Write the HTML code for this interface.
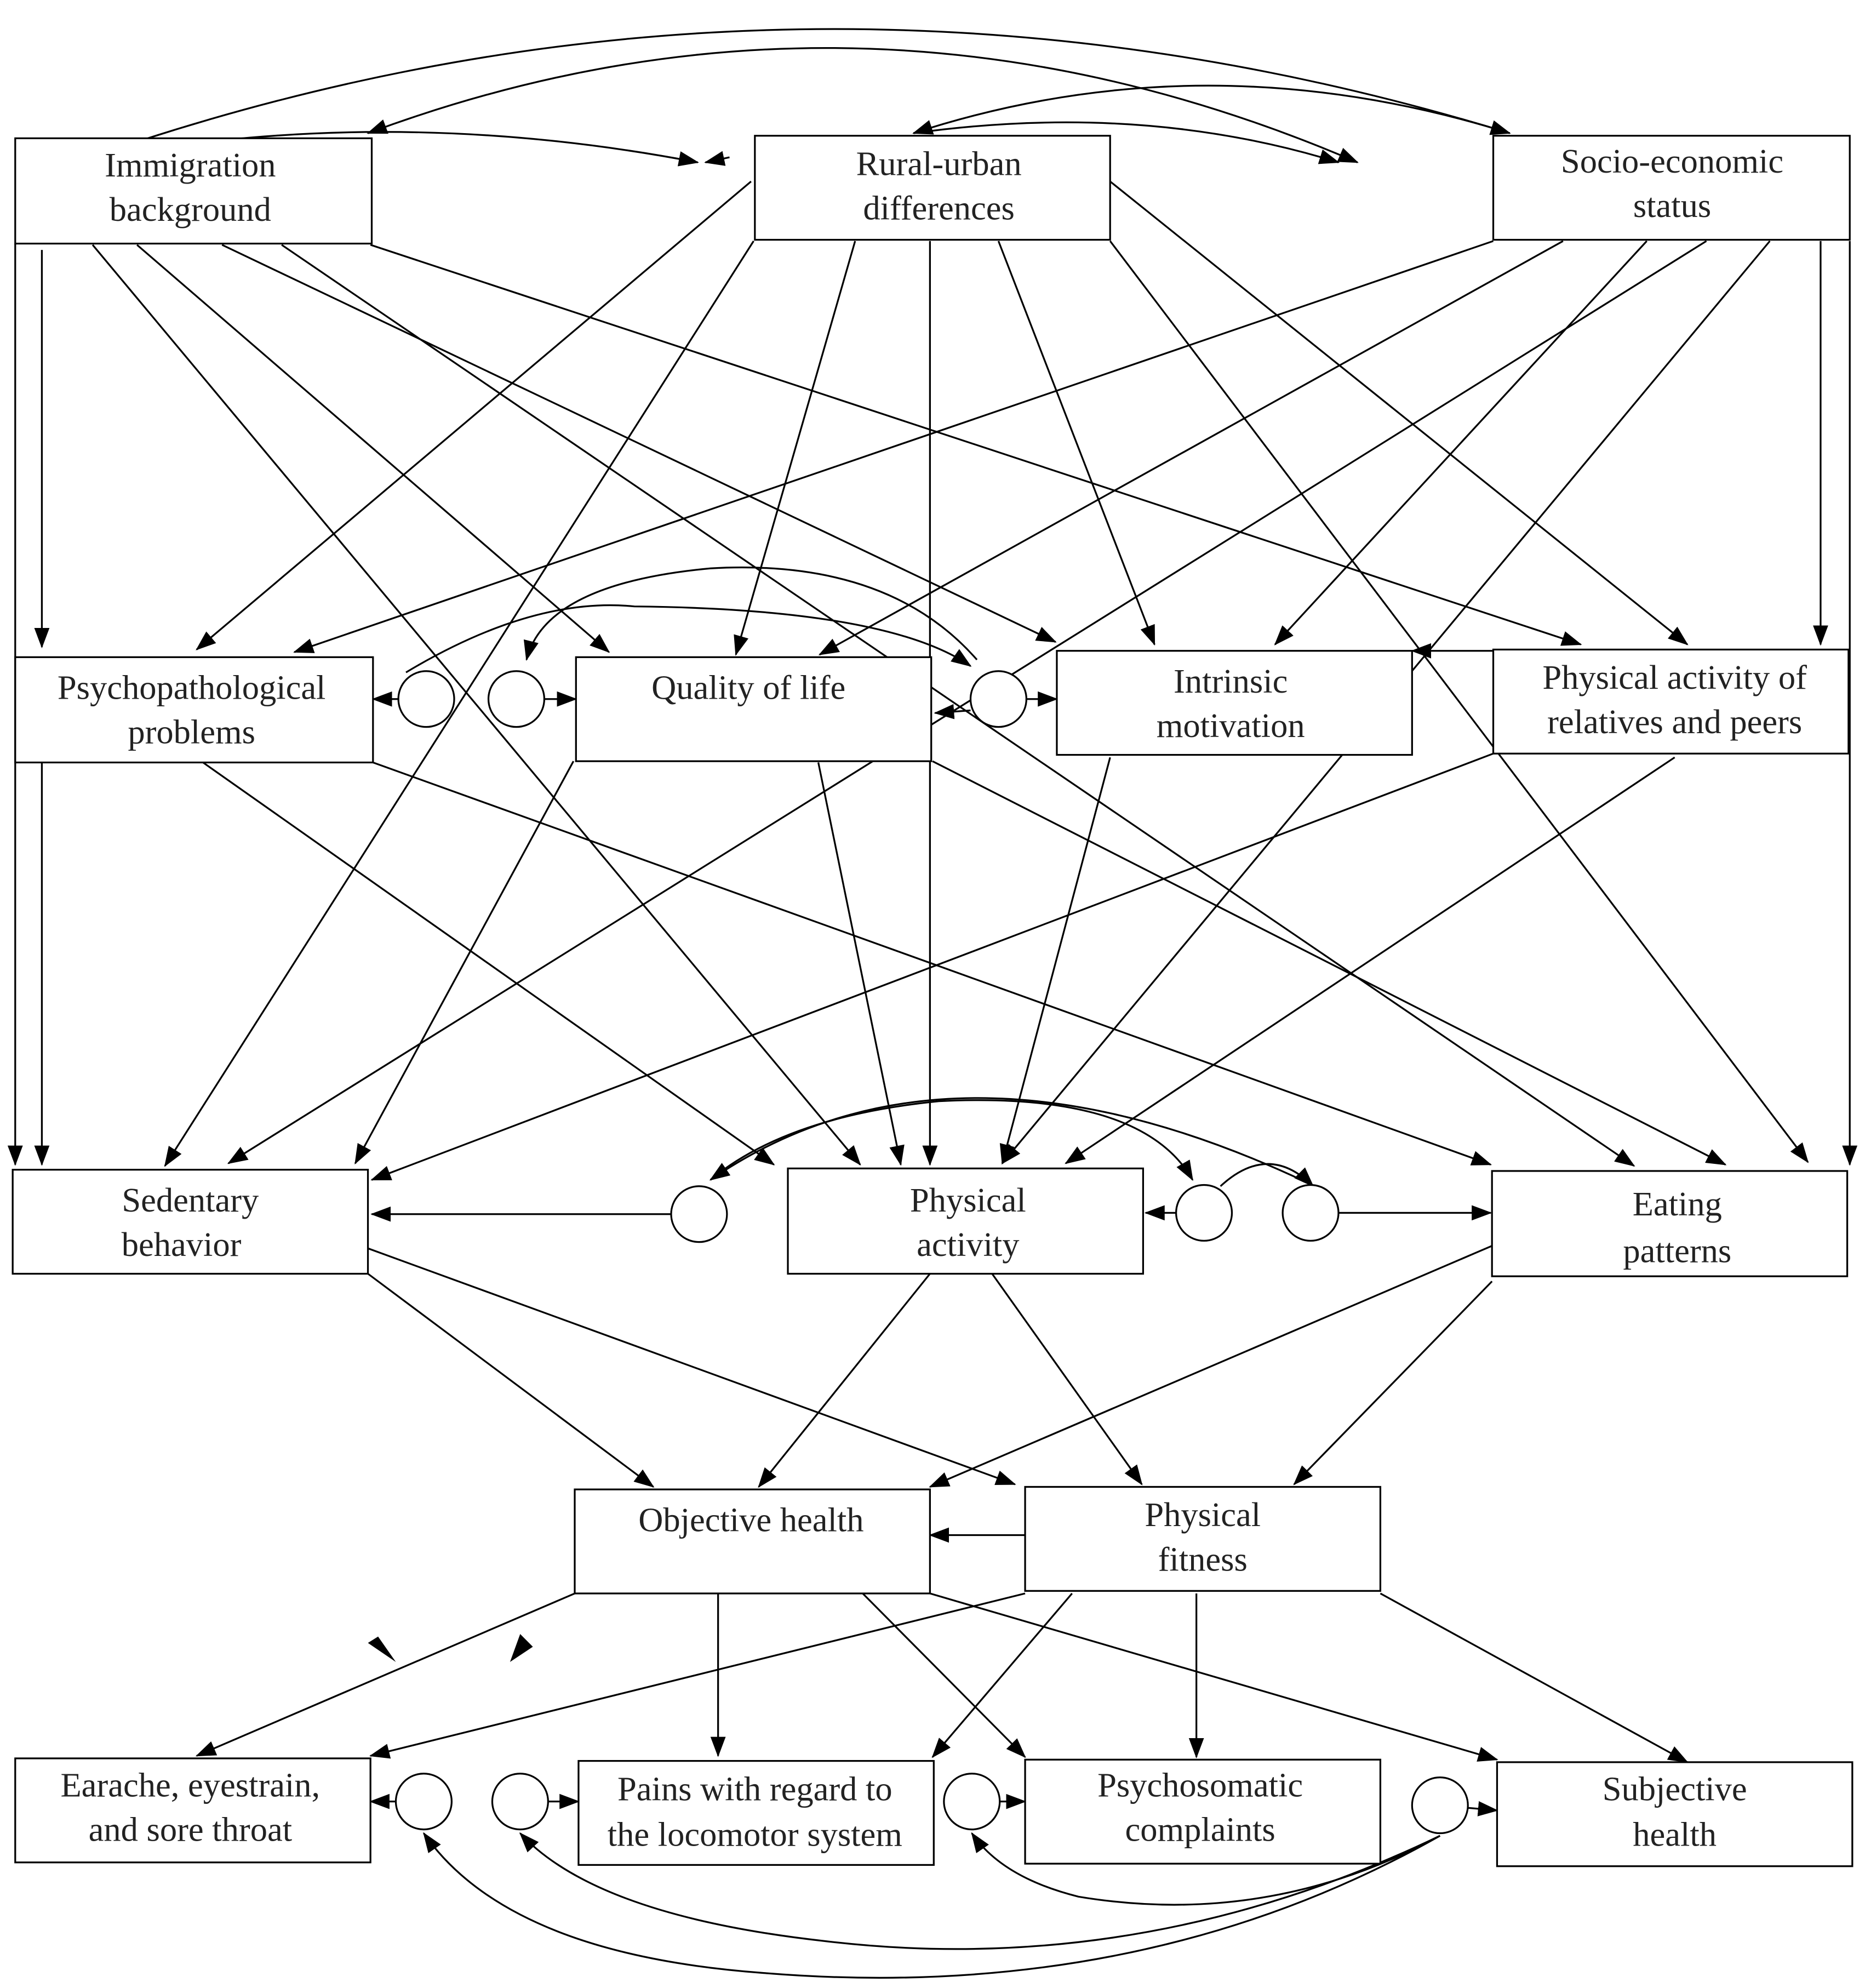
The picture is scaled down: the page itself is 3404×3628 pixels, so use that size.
<!DOCTYPE html>
<html><head><meta charset="utf-8"><style>
html,body{margin:0;padding:0;background:#fff}
svg{display:block}
text{font-family:"Liberation Serif",serif;font-size:27px;fill:#222;text-anchor:middle}
</style></head><body>
<svg width="3404" height="3628" viewBox="0 0 1470 1567" preserveAspectRatio="none" xmlns="http://www.w3.org/2000/svg">
<defs><marker id="b" markerWidth="16" markerHeight="16" refX="15" refY="8" orient="auto" markerUnits="userSpaceOnUse" viewBox="0 0 16 16"><path d="M0,2 L16,8 L0,14 Z" fill="#000"/></marker>
<marker id="s" markerWidth="16" markerHeight="16" refX="1" refY="8" orient="auto" markerUnits="userSpaceOnUse" viewBox="0 0 16 16"><path d="M16,2 L0,8 L16,14 Z" fill="#000"/></marker></defs>
<g stroke="#000" stroke-width="1.4" fill="none" marker-end="url(#b)">
<path d="M60,128 Q620,-70 1190,105" marker-start="url(#s)"/>
<path d="M290,105 Q680,-40 1070,128" marker-start="url(#s)"/>
<path d="M1190,105 Q950,30 720,105"/>
<path d="M60,128 Q300,80 550,128"/>
<path d="M720,105 Q900,80 1055,128"/>
<path d="M575,124 L556,128"/>
<path d="M33,197 L33,510"/>
<path d="M12,192 L12,918"/>
<path d="M73,193 L678,918"/>
<path d="M108,193 L480,514"/>
<path d="M175,193 L832,506"/>
<path d="M222,193 L1288,919"/>
<path d="M292,193 L1246,508"/>
<path d="M592,143 L155,512"/>
<path d="M594,190 L130,919"/>
<path d="M674,190 L580,516"/>
<path d="M733,190 L733,918"/>
<path d="M787,190 L910,508"/>
<path d="M875,143 L1330,508"/>
<path d="M875,190 L1425,916"/>
<path d="M1177,190 L232,514"/>
<path d="M1232,190 L646,516"/>
<path d="M1298,190 L1005,508"/>
<path d="M1345,190 L180,917"/>
<path d="M1395,190 L790,917"/>
<path d="M1435,190 L1435,508"/>
<path d="M1458,190 L1458,918"/>
<path d="M33,601 L33,918"/>
<path d="M160,601 L610,918"/>
<path d="M294,601 L1175,918"/>
<path d="M452,600 L280,917"/>
<path d="M645,601 L710,918"/>
<path d="M735,600 L1360,918"/>
<path d="M875,597 L790,917"/>
<path d="M1177,594 L293,930"/>
<path d="M1320,597 L840,917"/>
<path d="M1177,513 L1113,513"/>
<path d="M314,551 L294,551"/>
<path d="M429,551 L454,551"/>
<path d="M809,551 L833,551"/>
<path d="M765,560 L737,562"/>
<path d="M320,530 Q420,470 500,478 Q700,480 765,525"/>
<path d="M770,520 Q700,440 560,448 Q430,460 415,520"/>
<path d="M529,957 L293,957"/>
<path d="M927,956 L903,956"/>
<path d="M1055,956 L1175,956"/>
<path d="M560,930 Q620,880 740,868 Q900,860 940,930"/>
<path d="M1030,932 Q750,800 560,930"/>
<path d="M962,935 Q1000,900 1035,935"/>
<path d="M290,1004 L515,1172"/>
<path d="M290,984 L800,1170"/>
<path d="M733,1004 L598,1172"/>
<path d="M782,1004 L900,1170"/>
<path d="M1176,982 L733,1172"/>
<path d="M1176,1010 L1020,1170"/>
<path d="M808,1210 L733,1210"/>
<path d="M453,1256 L155,1384"/>
<path d="M566,1256 L566,1384"/>
<path d="M680,1256 L808,1385"/>
<path d="M733,1256 L1180,1387"/>
<path d="M808,1256 L292,1384"/>
<path d="M845,1256 L735,1385"/>
<path d="M943,1256 L943,1385"/>
<path d="M1088,1256 L1330,1389"/>
<path d="M312,1420 L292,1420"/>
<path d="M432,1420 L456,1420"/>
<path d="M788,1420 L808,1420"/>
<path d="M1157,1425 L1180,1427"/>
<path d="M1135,1447 Q900,1580 600,1555 Q400,1540 334,1445"/>
<path d="M1135,1447 Q900,1560 650,1530 Q470,1510 410,1445"/>
<path d="M1135,1447 Q1000,1520 850,1495 Q790,1480 766,1445"/>
</g>
<g fill="#000">
<path d="M290,1295 L312,1310 L298,1290 Z"/>
<path d="M402,1310 L420,1298 L410,1288 Z"/>
<path d="M645,568 L668,575 L655,558 Z"/>
</g>
<g stroke="#000" stroke-width="1.4" fill="#fff">
<rect x="12" y="109" width="281" height="83"/>
<rect x="595" y="107" width="280" height="82"/>
<rect x="1177" y="107" width="281" height="82"/>
<rect x="12" y="518" width="282" height="83"/>
<rect x="454" y="518" width="280" height="82"/>
<rect x="833" y="513" width="280" height="82"/>
<rect x="1177" y="512" width="280" height="82"/>
<rect x="10" y="922" width="280" height="82"/>
<rect x="621" y="921" width="280" height="83"/>
<rect x="1176" y="923" width="280" height="83"/>
<rect x="453" y="1174" width="280" height="82"/>
<rect x="808" y="1172" width="280" height="82"/>
<rect x="12" y="1386" width="280" height="82"/>
<rect x="456" y="1388" width="280" height="82"/>
<rect x="808" y="1387" width="280" height="82"/>
<rect x="1180" y="1389" width="280" height="82"/>
<circle cx="336" cy="551" r="22"/><circle cx="407" cy="551" r="22"/><circle cx="787" cy="551" r="22"/>
<circle cx="551" cy="957" r="22"/><circle cx="949" cy="956" r="22"/><circle cx="1033" cy="956" r="22"/>
<circle cx="334" cy="1420" r="22"/><circle cx="410" cy="1420" r="22"/><circle cx="766" cy="1420" r="22"/><circle cx="1135" cy="1423" r="22"/>
</g>
<g>
<text x="150" y="139">Immigration</text><text x="150" y="174">background</text>
<text x="740" y="138">Rural-urban</text><text x="740" y="173">differences</text>
<text x="1318" y="136">Socio-economic</text><text x="1318" y="171">status</text>
<text x="151" y="551">Psychopathological</text><text x="151" y="586">problems</text>
<text x="590" y="551">Quality of life</text>
<text x="970" y="546">Intrinsic</text><text x="970" y="581">motivation</text>
<text x="1320" y="543">Physical activity of</text><text x="1320" y="578">relatives and peers</text>
<text x="150" y="955">Sedentary</text><text x="143" y="990">behavior</text>
<text x="763" y="955">Physical</text><text x="763" y="990">activity</text>
<text x="1322" y="958">Eating</text><text x="1322" y="995">patterns</text>
<text x="592" y="1207">Objective health</text>
<text x="948" y="1203">Physical</text><text x="948" y="1238">fitness</text>
<text x="150" y="1416">Earache, eyestrain,</text><text x="150" y="1451">and sore throat</text>
<text x="595" y="1419">Pains with regard to</text><text x="595" y="1455">the locomotor system</text>
<text x="946" y="1416">Psychosomatic</text><text x="946" y="1451">complaints</text>
<text x="1320" y="1419">Subjective</text><text x="1320" y="1455">health</text>
</g>
</svg>
</body></html>
